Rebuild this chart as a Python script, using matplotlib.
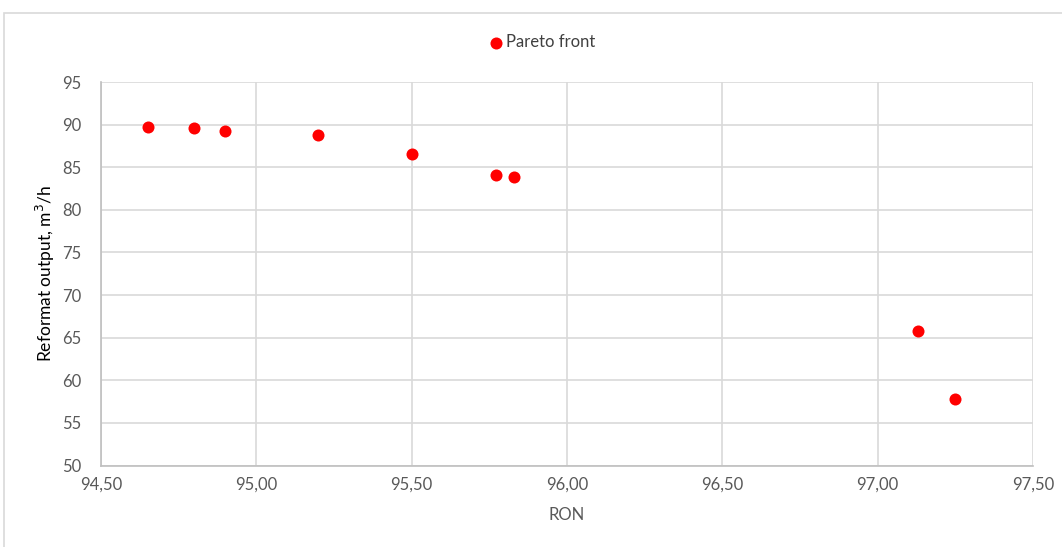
import matplotlib
matplotlib.use("Agg")
import matplotlib.pyplot as plt
from matplotlib.patches import Rectangle
from matplotlib.ticker import FuncFormatter

ron = [94.65, 94.80, 94.90, 95.20, 95.50, 95.77, 95.83, 97.13, 97.25]
output = [89.73, 89.61, 89.22, 88.79, 86.6, 84.06, 83.83, 65.8, 57.8]
x_ticks = [94.5, 95.0, 95.5, 96.0, 96.5, 97.0, 97.5]
y_ticks = [50, 55, 60, 65, 70, 75, 80, 85, 90, 95]

plt.rcParams['font.family'] = ['Lato', 'DejaVu Sans']
fig = plt.figure(figsize=(10.62, 5.47), dpi=100)
fig.patches.append(Rectangle((4/1062, -0.1), 1.2, 1 - 13/547 + 0.1, transform=fig.transFigure,
                             fill=False, edgecolor='#d9d9d9', linewidth=1.2))
ax = fig.add_axes([101/1062, 1 - 465.5/547, (1033 - 101)/1062, (465.5 - 82)/547])
ax.scatter(ron, output, s=75, color='#ff0000', zorder=3, label='Pareto front', linewidths=0)
ax.set_xlim(94.5, 97.5)
ax.set_ylim(50, 95)
ax.set_xticks(x_ticks)
ax.set_yticks(y_ticks)
ax.xaxis.set_major_formatter(FuncFormatter(lambda v, p: f"{v:.2f}".replace('.', ',')))
ax.grid(True, color='#d9d9d9', linewidth=1.2)
ax.set_axisbelow(True)
for s in ['top', 'right']:
    ax.spines[s].set_visible(False)
for s in ['left', 'bottom']:
    ax.spines[s].set_color('#bfbfbf')
    ax.spines[s].set_linewidth(1.2)
ax.tick_params(length=0, labelsize=12, colors='#595959', pad=8)
ax.tick_params(axis='y', pad=14)
ax.set_xlabel('RON', fontsize=12, color='#595959', labelpad=10)
ax.set_ylabel('Reformat output, m$^3$/h', fontsize=12.5, color='#000000', labelpad=4)
leg = fig.legend(loc='center', bbox_to_anchor=(541/1062, 1 - 42/547), frameon=False,
                 fontsize=12, handletextpad=0.0, handlelength=1.2, markerscale=1.0)
for t in leg.get_texts():
    t.set_color('#404040')
fig.savefig('out.png', dpi=100)
